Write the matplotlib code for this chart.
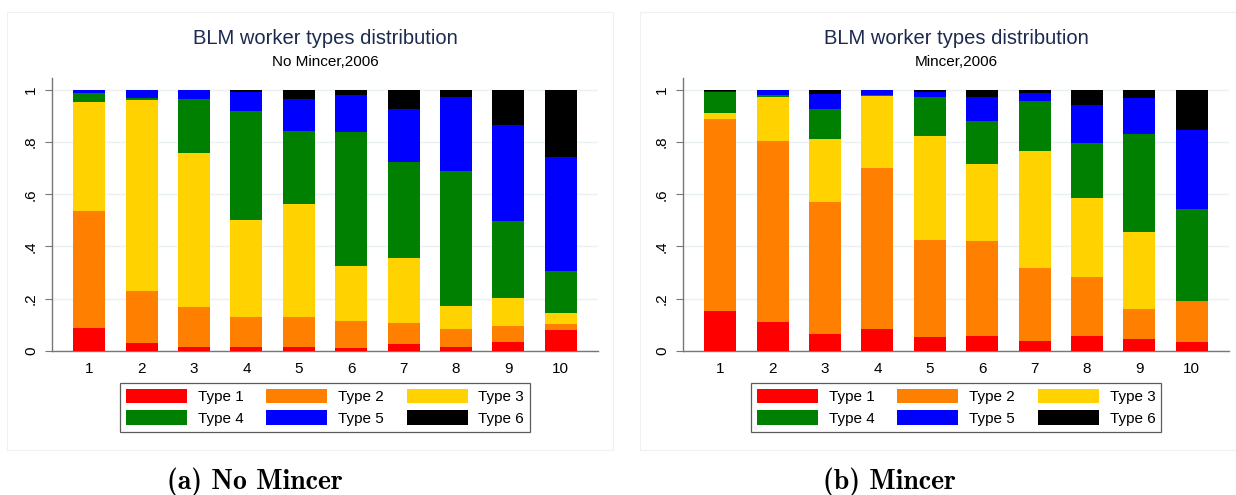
import numpy as np
import matplotlib
matplotlib.use("Agg")
import matplotlib.pyplot as plt
from matplotlib.patches import Rectangle

deciles = [1, 2, 3, 4, 5, 6, 7, 8, 9, 10]
type_names = ["Type 1", "Type 2", "Type 3", "Type 4", "Type 5", "Type 6"]
type_colors = ["#ff0000", "#ff8000", "#ffd200", "#008000", "#0000ff", "#000000"]

# No Mincer, 2006 (shares per decile)
nm_t1 = [.086, .031, .015, .013, .015, .010, .024, .013, .033, .078]
nm_t2 = [.450, .199, .154, .117, .114, .103, .082, .071, .063, .026]
nm_t3 = [.417, .732, .591, .371, .432, .212, .248, .087, .105, .042]
nm_t4 = [.037, .007, .204, .418, .280, .514, .370, .520, .296, .160]
nm_t5 = [.010, .031, .036, .073, .124, .141, .202, .281, .369, .436]
nm_t6 = [.000, .000, .000, .008, .035, .020, .074, .028, .134, .258]

# Mincer, 2006
m_t1 = [.153, .110, .063, .084, .054, .055, .036, .056, .045, .035]
m_t2 = [.736, .694, .507, .615, .372, .367, .282, .225, .114, .156]
m_t3 = [.021, .170, .241, .278, .399, .293, .447, .303, .295, .000]
m_t4 = [.084, .006, .117, .003, .147, .167, .192, .214, .378, .352]
m_t5 = [.004, .019, .057, .020, .020, .090, .033, .146, .139, .304]
m_t6 = [.002, .001, .015, .000, .008, .028, .010, .056, .029, .153]

panels = [
    ("No Mincer,2006", [nm_t1, nm_t2, nm_t3, nm_t4, nm_t5, nm_t6], "(a) No Mincer"),
    ("Mincer,2006", [m_t1, m_t2, m_t3, m_t4, m_t5, m_t6], "(b) Mincer"),
]

plt.rcParams['font.family'] = ['Liberation Sans', 'DejaVu Sans']

fig = plt.figure(figsize=(12.36, 4.95), dpi=100)
W, H = 1236.0, 495.0

# faint panel frames
for x0, x1 in [(7, 613), (640, 1240)]:
    fig.add_artist(Rectangle((x0 / W, 1 - 450 / H), (x1 - x0) / W, (450 - 12) / H,
                             transform=fig.transFigure, fill=False,
                             edgecolor="#f0f0f0", lw=0.8))

axes_left = [52, 683]
caption_x = [255, 889]
for (subtitle, series, caption), xl, capx in zip(panels, axes_left, caption_x):
    ax = fig.add_axes([xl / W, 1 - 350.7 / H, 546 / W, (350.7 - 78) / H])
    x = np.array(deciles)
    bottom = np.zeros(len(x))
    handles = []
    for vals, name, col in zip(series, type_names, type_colors):
        b = ax.bar(x, vals, width=0.61, bottom=bottom, color=col, label=name,
                   edgecolor="none", zorder=3)
        handles.append(b)
        bottom += np.array(vals)
    ax.set_xlim(0.29, 10.71)
    ax.set_ylim(0, 1.046)
    ax.set_yticks([0, .2, .4, .6, .8, 1])
    ax.set_yticklabels(["0", ".2", ".4", ".6", ".8", "1"], rotation=90, va="center")
    ax.set_xticks(deciles)
    ax.set_xticklabels([str(d) for d in deciles])
    ax.tick_params(axis="y", length=5, width=0.8, color="#777777", labelsize=11, pad=5)
    ax.tick_params(axis="x", length=0, labelsize=11, pad=8)
    ax.grid(axis="y", color="#e9f1f3", lw=1, zorder=0)
    for s in ["top", "right"]:
        ax.spines[s].set_visible(False)
    for s in ["left", "bottom"]:
        ax.spines[s].set_color("#777777")
        ax.spines[s].set_linewidth(1.0)

    cx = (xl + 546 / 2) / W
    fig.text(cx, 1 - 38 / H, "BLM worker types distribution", ha="center", va="center",
             fontsize=14.5, color="#1c2a50")
    fig.text(cx, 1 - 62 / H, subtitle, ha="center", va="center", fontsize=11, color="black")
    # legend filled row by row: Type 1 2 3 / Type 4 5 6
    order = [0, 3, 1, 4, 2, 5]
    leg = fig.legend([handles[i] for i in order], [type_names[i] for i in order],
                     ncol=3, loc="upper center",
                     bbox_to_anchor=(cx, 1 - 375 / H), fontsize=11, frameon=True,
                     fancybox=False, edgecolor="#333333", handlelength=4.0,
                     handleheight=1.1, handletextpad=0.7, columnspacing=1.5,
                     labelspacing=0.4, borderpad=0.4)
    leg.get_frame().set_linewidth(0.9)
    fig.text(capx / W, 1 - 482 / H, caption, ha="center", va="center",
             fontsize=20, fontweight="bold", family=["cmb10", "DejaVu Serif"])

fig.savefig("out.png", dpi=100)
